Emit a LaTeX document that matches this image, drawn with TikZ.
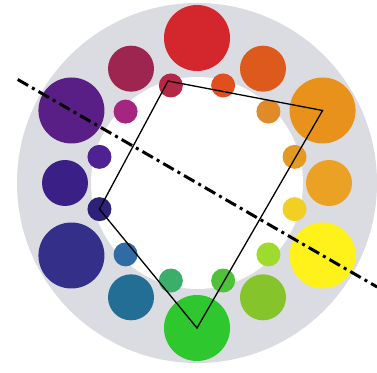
\documentclass[tikz,border=0pt]{standalone}
\usetikzlibrary{calc}
\definecolor{ringgray}{RGB}{218,220,225}
\definecolor{cRed}{RGB}{212,38,45}
\definecolor{cMaroon}{RGB}{158,37,80}
\definecolor{cViolet}{RGB}{90,31,134}
\definecolor{cIndigo}{RGB}{58,31,134}
\definecolor{cNavy}{RGB}{52,48,138}
\definecolor{cTeal}{RGB}{35,110,148}
\definecolor{cGreen}{RGB}{46,199,46}
\definecolor{cYGreen}{RGB}{134,196,43}
\definecolor{cYellow}{RGB}{255,242,26}
\definecolor{cYOrange}{RGB}{235,162,36}
\definecolor{cOrange}{RGB}{232,146,28}
\definecolor{cROrange}{RGB}{222,90,28}
\definecolor{sCrimson}{RGB}{181,38,71}
\definecolor{sROrange}{RGB}{224,80,31}
\definecolor{sOrange}{RGB}{224,138,42}
\definecolor{sYOrange}{RGB}{227,154,34}
\definecolor{sYellow}{RGB}{242,207,36}
\definecolor{sYGreen}{RGB}{159,219,46}
\definecolor{sGreen}{RGB}{79,194,58}
\definecolor{sTealGreen}{RGB}{58,174,106}
\definecolor{sBlue}{RGB}{47,108,166}
\definecolor{sNavy}{RGB}{45,34,119}
\definecolor{sViolet}{RGB}{78,34,144}
\definecolor{sMagenta}{RGB}{165,38,127}
\begin{document}
\begin{tikzpicture}[x=1pt,y=1pt,
  bigdisc/.style={circle,inner sep=0pt,minimum size=66pt,fill=#1},
  middisc/.style={circle,inner sep=0pt,minimum size=46pt,fill=#1},
  smalldisc/.style={circle,inner sep=0pt,minimum size=24pt,fill=#1},
  quad/.style={draw=black,line width=1.3pt,line join=miter},
  axisline/.style={draw=black,line width=3pt,dash pattern=on 12pt off 4.5pt on 3pt off 4.5pt}]
\fill[white] (0,0) rectangle (377,372);
\useasboundingbox (0,0) rectangle (377,372);
\coordinate (C) at (197,189);
% ring
\fill[ringgray] (C) circle (180pt);
\fill[white] (C) circle (106pt);
% large discs
\node[bigdisc=cRed]     (red)     at ($(C)+(90:145)$) {};
\node[bigdisc=cOrange]  (orange)  at ($(C)+(30:145)$) {};
\node[bigdisc=cYellow]  (yellow)  at ($(C)+(-30:145)$) {};
\node[bigdisc=cGreen]   (green)   at ($(C)+(-90:145)$) {};
\node[bigdisc=cNavy]    (navy)    at ($(C)+(-150:145)$) {};
\node[bigdisc=cViolet]  (violet)  at ($(C)+(150:145)$) {};
% medium discs
\node[middisc=cROrange] (rorange) at ($(C)+(60:132)$) {};
\node[middisc=cYOrange] (yorange) at ($(C)+(0:132)$) {};
\node[middisc=cYGreen]  (ygreen)  at ($(C)+(-60:132)$) {};
\node[middisc=cTeal]    (teal)    at ($(C)+(-120:132)$) {};
\node[middisc=cIndigo]  (indigo)  at ($(C)+(180:132)$) {};
\node[middisc=cMaroon]  (maroon)  at ($(C)+(120:132)$) {};
% small discs
\node[smalldisc=sCrimson]   (s105) at ($(C)+(105:101)$) {};
\node[smalldisc=sROrange]   (s75)  at ($(C)+(75:101)$) {};
\node[smalldisc=sOrange]    (s45)  at ($(C)+(45:101)$) {};
\node[smalldisc=sYOrange]   (s15)  at ($(C)+(15:101)$) {};
\node[smalldisc=sYellow]    (sm15) at ($(C)+(-15:101)$) {};
\node[smalldisc=sYGreen]    (sm45) at ($(C)+(-45:101)$) {};
\node[smalldisc=sGreen]     (sm75) at ($(C)+(-75:101)$) {};
\node[smalldisc=sTealGreen] (sm105) at ($(C)+(-105:101)$) {};
\node[smalldisc=sBlue]      (sm135) at ($(C)+(-135:101)$) {};
\node[smalldisc=sNavy]      (sm165) at ($(C)+(-165:101)$) {};
\node[smalldisc=sViolet]    (s165) at ($(C)+(165:101)$) {};
\node[smalldisc=sMagenta]   (s135) at ($(C)+(135:101)$) {};
% quadrilateral
\coordinate (q1) at (168,291);
\coordinate (q2) at (orange.center);
\coordinate (q3) at (green.center);
\coordinate (q4) at (sm165.center);
\draw[quad] (q1) -- (q2) -- (q3) -- (q4) -- cycle;
% axis
\coordinate (a1) at ($(C)+(150:207)$);
\coordinate (a2) at ($(C)+(-30:208)$);
\draw[axisline] (a1) -- (a2);
\end{tikzpicture}
\end{document}
